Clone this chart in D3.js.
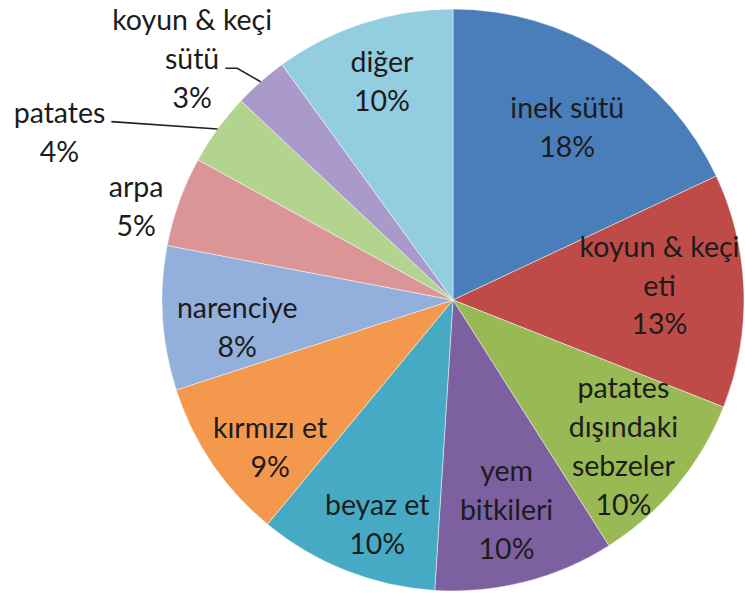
<!DOCTYPE html>
<html>
<head>
<meta charset="utf-8">
<script src="https://cdn.jsdelivr.net/npm/d3@7"></script>
<style>
  html, body { margin: 0; padding: 0; background: #ffffff; }
  svg { display: block; }
</style>
</head>
<body>
<svg id="chart" width="745" height="596"></svg>
<script>
// ---- data ----
const categories = [
  "inek sütü", "koyun & keçi eti", "patates dışındaki sebzeler", "yem bitkileri",
  "beyaz et", "kırmızı et", "narenciye", "arpa", "patates", "koyun & keçi sütü", "diğer"
];
const values = [18, 13, 10, 10, 10, 9, 8, 5, 4, 3, 10];
const labelLines = [
  ["inek sütü"], ["koyun & keçi", "eti"], ["patates", "dışındaki", "sebzeler"],
  ["yem", "bitkileri"], ["beyaz et"], ["kırmızı et"], ["narenciye"], ["arpa"],
  ["patates"], ["koyun & keçi", "sütü"], ["diğer"]
];
const colors = [
  "#4a7ebb", "#be4b48", "#98b954", "#7d60a0", "#46aac5", "#f3984c",
  "#93b0dc", "#dc9596", "#b2d48f", "#a99acb", "#92cde0"
];

// ---- layout ----
const cx = 453, cy = 300, R = 291;
const svg = d3.select("#chart");
const g = svg.append("g").attr("transform", `translate(${cx},${cy})`);

const data = categories.map((c, i) => ({ name: c, value: values[i], lines: labelLines[i], color: colors[i] }));
const pie = d3.pie().value(d => d.value).sort(null);
const arcs = pie(data);
const arc = d3.arc().innerRadius(0).outerRadius(R);

g.selectAll("path.slice")
  .data(arcs)
  .enter().append("path")
  .attr("class", "slice")
  .attr("d", arc)
  .attr("fill", d => d.data.color)
  .attr("stroke", "#ffffff")
  .attr("stroke-opacity", 0.6)
  .attr("stroke-width", 0.8);

const fontSize = 28.5, lineH = 39;
// inside labels: radius fraction + small nudge per slice
const inside = {
  "inek sütü": { r: 0.72, dx: 2, dy: 4 },
  "koyun & keçi eti": { r: 0.71, dx: 0, dy: -8 },
  "patates dışındaki sebzeler": { r: 0.76, dx: 0, dy: 6 },
  "yem bitkileri": { r: 0.74, dx: 0, dy: 1 },
  "beyaz et": { r: 0.81, dx: 11, dy: 5 },
  "kırmızı et": { r: 0.81, dx: 12, dy: 15 },
  "narenciye": { r: 0.75, dx: 2, dy: 14 },
  "diğer": { r: 0.79, dx: 0, dy: 0 }
};
// outside labels: label centre given as radius fraction + angle offset (degrees)
const outside = {
  "arpa": { r: 1.135, da: -3.4 },
  "patates": { r: 1.47, da: -12.9, leader: true },
  "koyun & keçi sütü": { r: 1.22, da: -5.9, leader: true }
};

function pt(angleRad, rad) {
  return [Math.sin(angleRad) * rad, -Math.cos(angleRad) * rad];
}

const labels = g.append("g").attr("font-family", "Lato, 'Open Sans', sans-serif")
  .attr("font-size", fontSize).attr("fill", "#1c1c1c").attr("text-anchor", "middle");

arcs.forEach(a => {
  const name = a.data.name;
  const mid = (a.startAngle + a.endAngle) / 2;
  const lines = a.data.lines.concat([a.data.value + "%"]);
  let c;
  if (inside[name]) {
    const o = inside[name];
    c = pt(mid, R * o.r);
    c[0] += o.dx; c[1] += o.dy;
  } else {
    const o = outside[name];
    c = pt(mid + o.da * Math.PI / 180, R * o.r);
  }
  const n = lines.length;
  const t = labels.append("text");
  lines.forEach((ln, i) => {
    t.append("tspan")
      .attr("x", c[0])
      .attr("y", c[1] + (i - (n - 1) / 2) * lineH)
      .attr("dy", "0.35em")
      .text(ln);
  });
  a.labelCenter = c;
  a.textNode = t;
});

// leader lines
const leaders = g.append("g").attr("fill", "none").attr("stroke", "#222").attr("stroke-width", 1.6);
arcs.forEach(a => {
  const name = a.data.name;
  if (!outside[name] || !outside[name].leader) return;
  const mid = (a.startAngle + a.endAngle) / 2;
  const end = pt(mid, R);
  const spans = a.textNode.selectAll("tspan").nodes();
  let pts;
  if (name === "patates") {
    const w = spans[0].getComputedTextLength();
    const y0 = a.labelCenter[1] - lineH / 2 + 9;
    const x0 = a.labelCenter[0] + w / 2 + 6;
    pts = [[x0, y0], end];
  } else {
    const w2 = spans[1].getComputedTextLength();
    const y0 = a.labelCenter[1] + 9;
    const x0 = a.labelCenter[0] + w2 / 2 + 6;
    pts = [[x0, y0], [x0 + 12, y0], end];
  }
  leaders.append("path").attr("d", d3.line()(pts));
});
</script>
</body>
</html>
